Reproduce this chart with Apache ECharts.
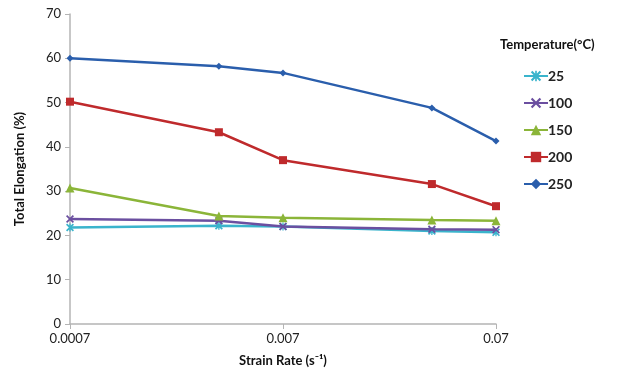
<!DOCTYPE html>
<html>
<head>
<meta charset="utf-8">
<script src="https://cdn.jsdelivr.net/npm/echarts@6/dist/echarts.min.js"></script>
<style>html,body{margin:0;padding:0;background:#fff}#c{width:620px;height:376px}</style>
</head>
<body>
<div id="c"></div>
<script>
const strainRates = [0.0007, 0.0035, 0.007, 0.035, 0.07];
const xTickLabels = ['0.0007', '0.007', '0.07'];
const temps = ['25', '100', '150', '200', '250'];
const elong25 = [21.8, 22.2, 22.0, 21.0, 20.7];
const elong100 = [23.7, 23.3, 22.0, 21.4, 21.3];
const elong150 = [30.7, 24.4, 24.0, 23.5, 23.3];
const elong200 = [50.2, 43.3, 37.0, 31.6, 26.6];
const elong250 = [60.0, 58.2, 56.7, 48.8, 41.3];

const baseRate = strainRates[0];
const toX = r => Math.log10(r / baseRate);
const pts = arr => arr.map((v, i) => [toX(strainRates[i]), v]);

const xSym = 'path://M0,1.5L1.5,0L5,3.5L8.5,0L10,1.5L6.5,5L10,8.5L8.5,10L5,6.5L1.5,10L0,8.5L3.5,5Z';
const starSym = 'path://M0,1.5L1.5,0L5,3.5L8.5,0L10,1.5L6.5,5L10,8.5L8.5,10L5,6.5L1.5,10L0,8.5L3.5,5Z M4.2,0L5.8,0L5.8,10L4.2,10Z';

const styles = [
  {color: '#3ab4cc', symbol: starSym, size: 8},
  {color: '#6b4fa0', symbol: xSym, size: 8},
  {color: '#8bb539', symbol: 'triangle', size: 9},
  {color: '#bf2a2c', symbol: 'rect', size: 8},
  {color: '#2a5eac', symbol: 'diamond', size: 7}
];
const dataSets = [elong25, elong100, elong150, elong200, elong250];

const FONT = 'Lato';
const chart = echarts.init(document.getElementById('c'), null, {renderer: 'canvas'});
chart.setOption({
  animation: false,
  backgroundColor: '#fff',
  grid: {left: 70, right: 124, top: 14, bottom: 52, containLabel: false},
  xAxis: {
    type: 'value', min: 0, max: 2, interval: 1,
    name: 'Strain Rate (s\u207B\u00B9)', nameLocation: 'middle', nameGap: 30,
    nameTextStyle: {fontFamily: FONT, fontWeight: 'bold', fontSize: 13, color: '#111'},
    axisLine: {lineStyle: {color: '#b4b4b4', width: 1.5}},
    axisTick: {show: true, length: 5, lineStyle: {color: '#b4b4b4'}},
    splitLine: {show: false},
    axisLabel: {fontFamily: FONT, fontSize: 13, color: '#222', margin: 8,
      formatter: v => xTickLabels[Math.round(v)] || ''}
  },
  yAxis: {
    type: 'value', min: 0, max: 70, interval: 10,
    name: 'Total Elongation (%)', nameLocation: 'middle', nameGap: 44,
    nameTextStyle: {fontFamily: FONT, fontWeight: 'bold', fontSize: 13, color: '#111'},
    axisLine: {show: true, lineStyle: {color: '#b4b4b4', width: 1.5}},
    axisTick: {show: true, length: 5, lineStyle: {color: '#b4b4b4'}},
    splitLine: {show: false},
    axisLabel: {fontFamily: FONT, fontSize: 13, color: '#222', margin: 9}
  },
  legend: {
    orient: 'vertical', left: 518, top: 64, itemGap: 13, itemWidth: 24, itemHeight: 13,
    textStyle: {fontFamily: FONT, fontSize: 14, fontWeight: 'bold', color: '#222', padding: [0,0,0,-5]},
    data: temps
  },
  graphic: [{
    type: 'text', left: 500, top: 38,
    style: {text: 'Temperature(\u00B0C)', font: 'bold 13px Lato', fill: '#111'}
  }],
  series: temps.map((t, i) => ({
    name: t, type: 'line', data: pts(dataSets[i]),
    symbol: styles[i].symbol, symbolSize: styles[i].size, showAllSymbol: true,
    lineStyle: {color: styles[i].color, width: 2.5},
    itemStyle: {color: styles[i].color},
    z: 2 + i
  }))
});
</script>
</body>
</html>
